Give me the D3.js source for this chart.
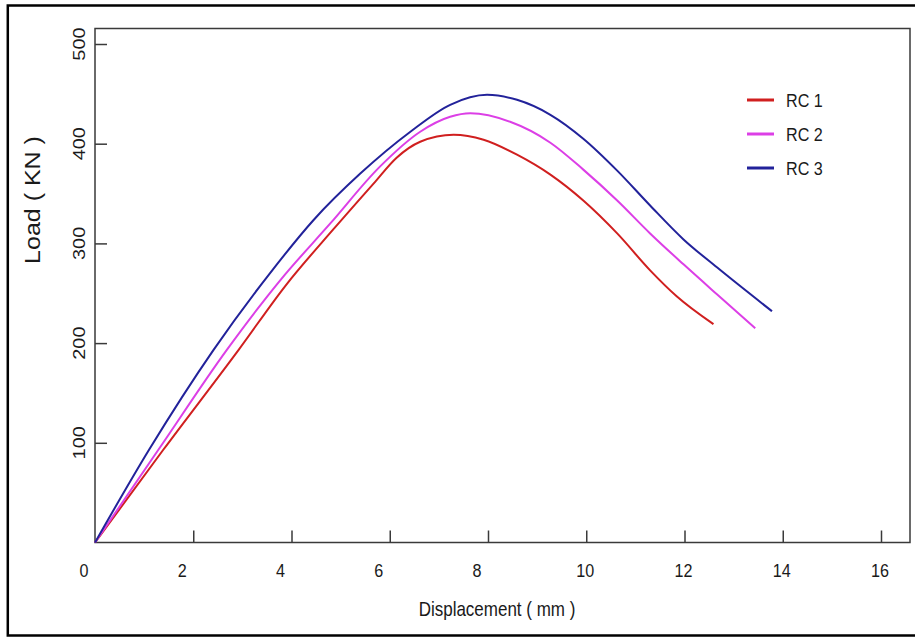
<!DOCTYPE html>
<html>
<head>
<meta charset="utf-8">
<script src="https://cdn.jsdelivr.net/npm/d3@7"></script>
<style>
  body { margin: 0; background: #fff; }
  text { font-family: "Liberation Sans", Arial, sans-serif; fill: #1a1a1a; }
</style>
</head>
<body>
<svg id="chart" width="915" height="637"></svg>
<script>
// Series data (displacement in mm, load in kN)
const rc1Disp = [0, 1.39, 2.92, 3.90, 4.85, 5.67, 6.14, 6.62, 7.30, 7.91, 8.59, 9.27, 9.94, 10.63, 11.30, 11.84, 12.59];
const rc1Load = [0, 93, 193, 259, 314, 360, 386, 402, 409, 404, 389, 369, 343, 310, 273, 247, 219];

const rc2Disp = [0, 1.29, 2.68, 3.77, 4.79, 5.80, 6.62, 7.23, 7.64, 8.45, 9.27, 9.94, 10.63, 11.30, 11.98, 12.66, 13.44];
const rc2Load = [0, 93, 193, 263, 320, 377, 412, 427, 430.5, 422, 401, 374, 343, 310, 279, 249, 215];

const rc3Disp = [0, 1.10, 2.41, 3.56, 4.45, 5.40, 6.42, 7.23, 7.98, 8.59, 9.27, 9.94, 10.63, 11.30, 11.98, 12.66, 13.78];
const rc3Load = [0, 93, 193, 270, 323.5, 370, 412, 439, 449, 444, 429, 405, 373, 338, 304, 276, 232];

const seriesNames = ['RC 1', 'RC 2', 'RC 3'];
const seriesColors = ['#d01f1f', '#dc3fe6', '#22229a'];

const xTicks = [2, 4, 6, 8, 10, 12, 14, 16];
const xLabels = [0, 2, 4, 6, 8, 10, 12, 14, 16];
const yTicks = [100, 200, 300, 400, 500];

const series = [
  d3.zip(rc1Disp, rc1Load),
  d3.zip(rc2Disp, rc2Load),
  d3.zip(rc3Disp, rc3Load),
];

const svg = d3.select('#chart');
const plot = {left: 95, top: 28.5, right: 910, bottom: 542.5};
// horizontal squeeze of the lettering in the original figure
const squeeze = 'scale(0.85,1)';

const x = d3.scaleLinear().domain([0, 16]).range([plot.left, 881]);
const y = d3.scaleLinear().domain([0, 500]).range([plot.bottom, 44]);

// outer border
svg.append('rect')
  .attr('x', 7.8).attr('y', 5.5)
  .attr('width', 915).attr('height', 630)
  .attr('fill', 'none')
  .attr('stroke', '#000')
  .attr('stroke-width', 2.5);

// plot frame
svg.append('rect')
  .attr('x', plot.left).attr('y', plot.top)
  .attr('width', plot.right - plot.left)
  .attr('height', plot.bottom - plot.top)
  .attr('fill', 'none')
  .attr('stroke', '#3a3a3a')
  .attr('stroke-width', 1.5);

// x axis: inward ticks
const xAxis = svg.append('g')
  .attr('transform', `translate(0, ${plot.bottom})`)
  .call(d3.axisBottom(x).tickValues(xTicks).tickSize(-12).tickFormat(''));
xAxis.select('.domain').remove();
xAxis.selectAll('line').attr('stroke', '#3a3a3a').attr('stroke-width', 1.5);

// x tick labels (single digits sit a little left of their tick, as in the source)
svg.append('g')
  .selectAll('text')
  .data(xLabels)
  .join('text')
    .attr('transform', (d) => `translate(${x(d) + (d < 10 ? -11 : -1)}, 577) ${squeeze}`)
    .attr('text-anchor', 'middle')
    .attr('font-size', 19)
    .text((d) => d);

// y axis: inward ticks, rotated labels
const yAxis = svg.append('g')
  .attr('transform', `translate(${plot.left}, 0)`)
  .call(d3.axisLeft(y).tickValues(yTicks).tickSize(-12).tickFormat(''));
yAxis.select('.domain').remove();
yAxis.selectAll('line').attr('stroke', '#3a3a3a').attr('stroke-width', 1.5);

svg.append('g')
  .selectAll('text')
  .data(yTicks)
  .join('text')
    .attr('transform', (d) => `translate(85, ${y(d)}) ${squeeze} rotate(-90)`)
    .attr('text-anchor', 'middle')
    .attr('font-size', 20)
    .text((d) => d);

// axis titles
svg.append('text')
  .attr('transform', `translate(40, 200) ${squeeze} rotate(-90)`)
  .attr('text-anchor', 'middle')
  .attr('font-size', 25)
  .text('Load ( KN )');

svg.append('text')
  .attr('transform', `translate(497, 616) ${squeeze}`)
  .attr('text-anchor', 'middle')
  .attr('font-size', 20)
  .text('Displacement ( mm )');

// curves
const line = d3.line()
  .x((d) => x(d[0]))
  .y((d) => y(d[1]))
  .curve(d3.curveMonotoneX);

svg.append('g')
  .selectAll('path')
  .data(series)
  .join('path')
    .attr('d', line)
    .attr('fill', 'none')
    .attr('stroke', (d, i) => seriesColors[i])
    .attr('stroke-width', 2);

// legend
const legend = svg.append('g')
  .selectAll('g')
  .data(seriesNames)
  .join('g')
    .attr('transform', (d, i) => `translate(747, ${100 + i * 34})`);

legend.append('line')
  .attr('x1', 0).attr('x2', 27)
  .attr('stroke', (d, i) => seriesColors[i])
  .attr('stroke-width', 3);

legend.append('text')
  .attr('transform', `translate(39, 7) ${squeeze}`)
  .attr('font-size', 19)
  .text((d) => d);
</script>
</body>
</html>
